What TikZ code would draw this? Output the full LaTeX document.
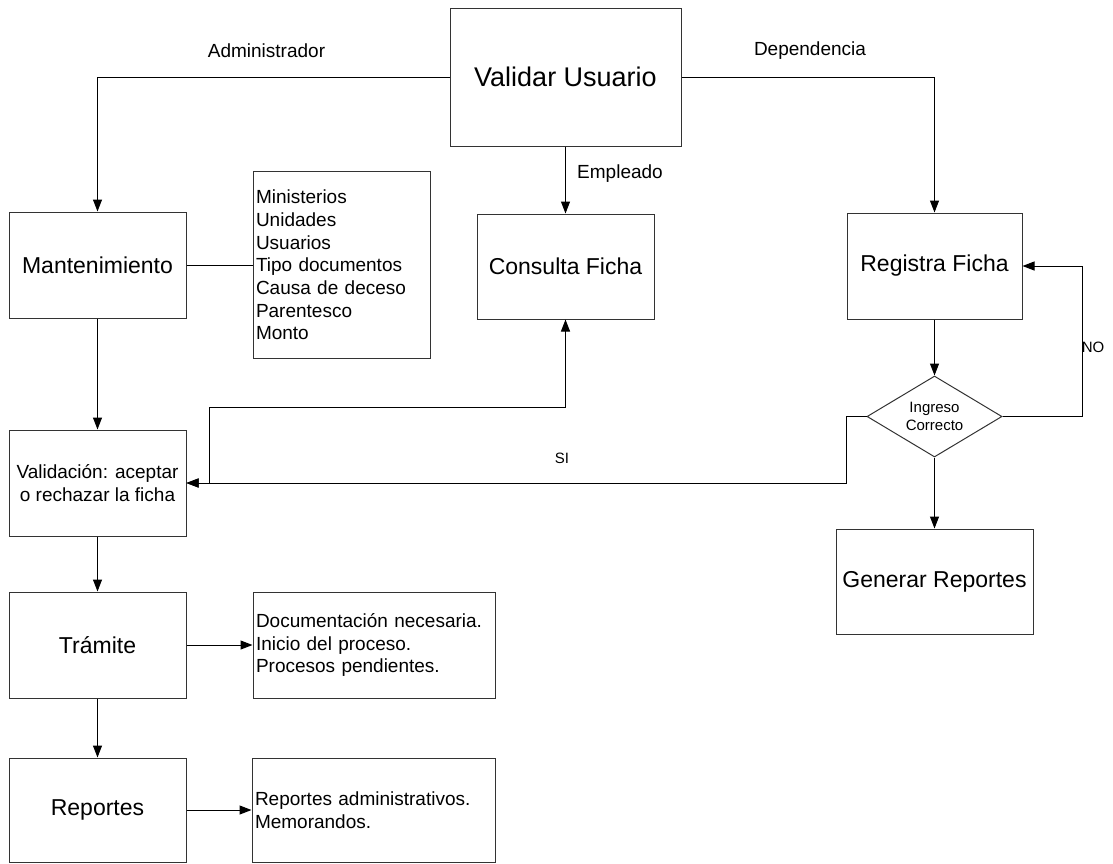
\documentclass[tikz,border=0pt]{standalone}
\usepackage{fontspec}
\setmainfont{Liberation Sans}
\usetikzlibrary{arrows.meta,shapes.geometric}

\begin{document}
\begin{tikzpicture}[
    x=1pt, y=-1pt,
    >={Triangle[length=12pt,width=9pt]}, % filled triangle tips
    line width=1pt,
    proc/.style={draw=black!80, minimum width=177pt, minimum height=106pt, inner sep=0pt, align=center, font=\fontsize{23}{27}\selectfont}, % process boxes
    lista/.style={draw=black!80, inner xsep=3pt, inner ysep=0pt, align=left, font=\fontsize{19}{22.7}\selectfont}, % text lists
    etiq/.style={font=\fontsize{19}{23}\selectfont}, % branch labels
    chica/.style={font=\fontsize{15}{18}\selectfont} % small labels
]

\useasboundingbox (0,0) rectangle (1113,863);

% Login box
\node[proc, minimum width=231pt, minimum height=138pt, font=\fontsize{27}{32}\selectfont] (valid) at (565.5,77) {Validar Usuario};

% Administrator branch
\node[proc] (mant) at (97.5,265) {Mantenimiento};
\node[lista, text width=171pt, minimum height=187pt] (catal) at (341.5,265) {Ministerios\\Unidades\\Usuarios\\Tipo documentos\\Causa de deceso\\Parentesco\\Monto};
\node[proc, font=\fontsize{19}{23}\selectfont] (valn) at (97.5,483) {Validación: aceptar\\o rechazar la ficha};
\node[proc] (tram) at (97.5,645) {Trámite};
\node[lista, text width=236pt, minimum height=106pt] (docs) at (374,645) {Documentación necesaria.\\Inicio del proceso.\\Procesos pendientes.};
\node[proc, minimum height=104pt] (rep) at (97.5,810) {Reportes};
\node[lista, text width=237pt, minimum height=104pt] (memos) at (373.5,810) {Reportes administrativos.\\Memorandos.};

% Employee branch
\node[proc, minimum height=105pt] (cons) at (565.5,266.5) {Consulta Ficha};

% Dependency branch
\node[proc, minimum width=175pt] (reg) at (934.5,266) {Registra Ficha};
\node[diamond, draw=black!80, aspect=1.667, minimum width=135pt, minimum height=81pt, inner sep=0pt, align=center, chica] (ingr) at (934.5,416.5) {Ingreso\\Correcto};
\node[proc, minimum width=197pt, minimum height=105pt] (gen) at (934.5,581.5) {Generar Reportes};

% Branch labels
\node[etiq] (admin) at (266.5,51) {Administrador};
\node[etiq] (depen) at (810,51) {Dependencia};
\node[etiq] (emple) at (620,174) {Empleado};
\node[chica] (no) at (1093,347) {NO};
\node[chica] (si) at (562,458) {SI};

% Connectors
\draw[->] (valid.west) -| (mant.north);
\draw[->] (valid.east) -| (reg.north);
\draw[->] (valid.south) -- (cons.north);
\draw (mant.east) -- (catal.west);
\draw[->] (mant.south) -- (valn.north);
\draw[->] (valn.south) -- (tram.north);
\draw[->] (tram.south) -- (rep.north);
\draw[->] (tram.east) -- (docs.west);
\draw[->] (rep.east) -- (memos.west);
\draw[->] (reg.south) -- (ingr.north);
\draw[->] (ingr.south) -- (gen.north);
\draw[->] (ingr.east) -- ++(80,0) |- (reg.east); % NO loop
\draw[->] (ingr.west) -- ++(-20,0) |- (valn.east); % SI
\coordinate (codo) at (209,407);
\draw[<->] (cons.south) |- (codo) |- (valn.east);

\end{tikzpicture}
\end{document}
